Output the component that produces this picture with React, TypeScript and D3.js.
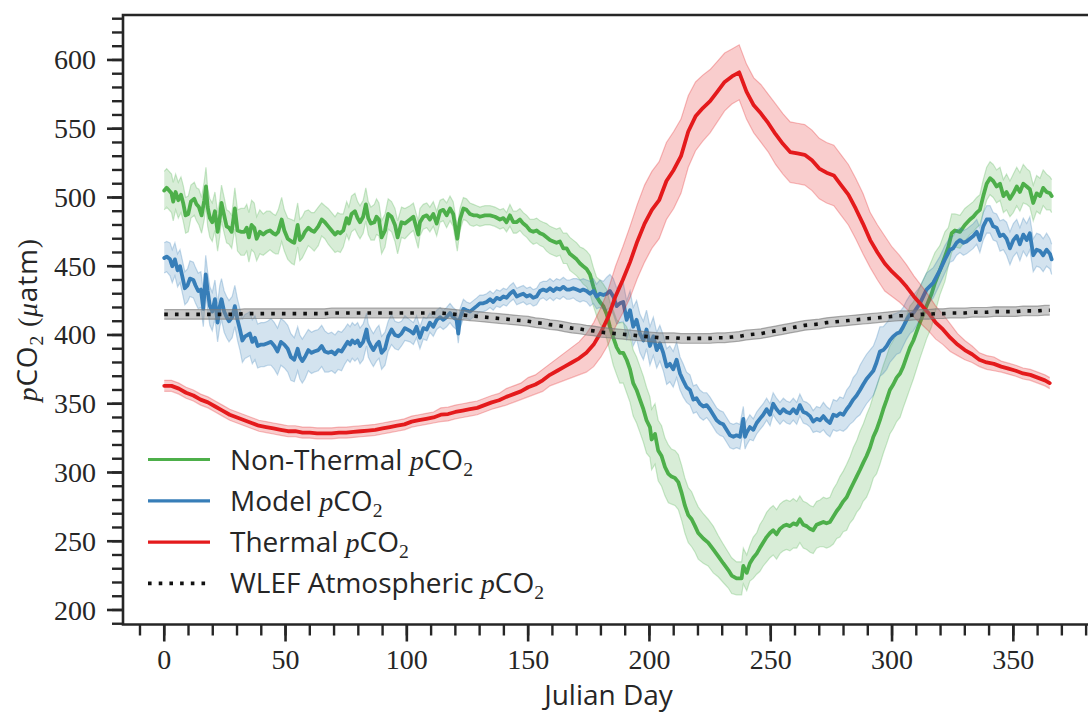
import React from 'react';
import * as d3 from 'd3';

// ---------- data ----------
// Non-thermal and model pCO2: [Julian day, value]
const NON_THERMAL: [number, number][] = [
  [0, 505], [1, 507], [3, 503], [3.7, 497], [4.7, 504], [5.8, 498], [6.9, 502], [7.8, 496], [8.8, 487], [9.9, 488],
  [11, 497], [12.4, 499], [13.3, 495], [14.3, 493], [15.4, 487], [16.5, 498], [17.2, 508], [17.9, 493], [18.8, 485], [19.8, 482],
  [20.9, 490], [22, 475], [22.9, 485], [23.6, 496], [24.7, 487], [25.7, 479], [26.7, 478], [27.8, 475], [29.1, 492], [30.2, 476],
  [31.6, 475], [33, 475], [34, 478], [34.9, 471], [36, 480], [37.1, 478], [38.1, 470], [39.4, 475], [40.8, 473], [42.2, 475],
  [43.6, 476], [44.9, 474], [45.9, 473], [47, 475], [48.4, 484], [49.5, 476], [50.9, 470], [52.5, 468], [53.6, 467], [55, 480],
  [55.9, 469], [56.9, 471], [58, 475], [59.4, 478], [60.7, 476], [61.8, 475], [63.5, 479], [64.9, 484], [66.2, 482], [67.6, 479],
  [69, 476], [70.4, 473], [71.5, 475], [72.6, 474], [73.8, 476], [75.2, 485], [76.1, 481], [77.2, 488], [78.6, 490], [79.7, 485],
  [80.7, 482], [82, 486], [83.1, 495], [84.1, 485], [85.2, 481], [86.6, 482], [87.5, 486], [88.5, 484], [89.6, 471], [91, 476],
  [92.3, 488], [93.7, 486], [95.1, 480], [96.2, 471], [97.8, 482], [99.2, 481], [101.3, 484], [102.7, 486], [104.7, 473], [105.4, 482],
  [106.8, 486], [108.2, 487], [109.5, 484], [110.9, 488], [112.3, 481], [113.7, 490], [115, 491], [116.4, 487], [117.8, 492], [119.1, 488],
  [120.8, 470], [121.9, 484], [123.3, 492], [124.6, 491], [126, 488], [127.4, 487], [128.8, 487], [130.1, 486], [132.2, 487], [134.3, 487],
  [136.3, 486], [138.4, 484], [139.8, 485], [141.1, 482], [142.5, 487], [143.9, 482], [145.2, 482], [146.6, 484], [148, 481], [149.4, 479],
  [150.8, 476], [152.1, 475], [153.5, 476], [154.9, 474], [156.2, 473], [157.6, 471], [159, 469], [160.4, 468], [161.7, 467], [163.1, 468],
  [164.5, 463], [165.9, 463], [167.2, 459], [168.6, 457], [170, 455], [171.4, 452], [172.7, 450], [174.1, 448], [175.5, 444], [176.9, 435],
  [178.2, 428], [179.6, 424], [181, 421], [182.4, 415], [183.7, 406], [185.1, 398], [186.5, 391], [187.8, 387], [189.2, 387], [190.6, 382],
  [192, 375], [193.3, 365], [194.7, 360], [196.1, 353], [197.5, 346], [198.8, 338], [200.2, 333], [200.9, 324], [202.3, 328], [203.6, 316],
  [205, 312], [206.4, 304], [207.8, 299], [209.1, 297], [210.5, 296], [211.9, 293], [213.3, 285], [214.6, 276], [216, 269], [217.4, 266],
  [218.8, 261], [220.1, 256], [222.2, 252], [224.2, 249], [226.3, 244], [228.4, 239], [230.4, 234], [232.5, 229], [233.9, 225], [235.9, 223],
  [238, 223], [238.7, 232], [240.1, 227], [241.4, 234], [242.8, 238], [244.2, 241], [245.5, 245], [246.9, 249], [248.3, 253], [249.7, 256],
  [251, 258], [252.4, 255], [253.8, 259], [255.2, 261], [256.5, 262], [257.9, 261], [259.3, 263], [260.7, 262], [262, 266], [263.4, 262],
  [264.8, 261], [266.2, 259], [267.5, 258], [268.9, 262], [270.3, 263], [271.7, 264], [273, 263], [274.4, 264], [275.8, 268], [277.2, 272],
  [278.5, 275], [279.9, 279], [281.3, 282], [282.6, 287], [284, 292], [285.4, 297], [286.8, 302], [288.1, 307], [289.5, 312], [290.9, 318],
  [292.3, 326], [293.6, 331], [295, 338], [296.4, 346], [297.8, 353], [299.1, 360], [300.5, 364], [301.9, 369], [303.3, 372], [304.6, 377],
  [306, 384], [307.4, 391], [308.8, 396], [311.5, 409], [314.2, 421], [316.3, 430], [317.7, 438], [319.7, 447], [321.8, 457], [323.2, 464],
  [324.6, 474], [325.9, 476], [328, 475], [330, 480], [332.1, 484], [333.5, 486], [334.9, 489], [336.2, 491], [337.6, 501], [339, 510],
  [340.4, 514], [341.7, 512], [343.1, 508], [344.5, 510], [345.9, 501], [347.2, 504], [348.6, 499], [350, 503], [351.4, 508], [352.7, 504],
  [354.1, 510], [355.5, 508], [356.8, 506], [358.2, 496], [359.6, 503], [361, 501], [362.3, 507], [363.7, 504], [365.1, 503], [365.8, 501],
];

const MODEL: [number, number][] = [
  [0, 456], [1, 457], [2.4, 455], [3.3, 450], [4.4, 455], [5.5, 447], [6.5, 450], [7.4, 443], [8.5, 434], [9.6, 436],
  [10.6, 441], [12, 440], [12.9, 436], [14, 432], [15.1, 433], [16.1, 419], [17.1, 444], [17.9, 432], [18.8, 421], [19.8, 417],
  [20.9, 426], [22, 409], [22.9, 421], [23.6, 426], [24.7, 417], [25.7, 413], [26.7, 410], [28, 413], [29.1, 421], [30.2, 411],
  [31.2, 404], [32.2, 396], [33.3, 399], [34.4, 400], [35.3, 401], [36.3, 395], [37.4, 398], [38.5, 392], [39.9, 393], [41.2, 393],
  [42.6, 394], [44, 395], [45.4, 392], [46.7, 388], [48.1, 395], [49.5, 393], [50.9, 390], [52.2, 384], [53.6, 382], [55, 390],
  [55.9, 384], [56.9, 381], [58, 384], [59.4, 389], [60.7, 387], [61.8, 388], [63.5, 389], [64.9, 392], [66.2, 388], [67.6, 387],
  [69, 388], [70.4, 386], [71.7, 389], [73.1, 388], [74.5, 392], [75.6, 395], [76.6, 393], [77.5, 396], [78.6, 394], [79.7, 396],
  [80.7, 392], [82, 395], [83.4, 404], [84.1, 396], [85.2, 392], [86.2, 389], [87.5, 393], [88.5, 395], [89.6, 387], [91, 390],
  [92.3, 399], [93.7, 404], [95.1, 400], [96.5, 399], [97.8, 401], [99.2, 405], [101.3, 403], [102.7, 401], [104, 406], [105.4, 398],
  [106.8, 405], [108.2, 404], [109.5, 409], [110.9, 406], [112.3, 411], [113.7, 413], [115, 411], [116.4, 413], [117.8, 416], [119.1, 413],
  [120.5, 411], [121.2, 401], [121.9, 412], [123.3, 419], [124.6, 418], [126, 417], [127.4, 419], [128.8, 421], [130.1, 423], [131.5, 423],
  [132.9, 424], [134.3, 426], [135.6, 424], [137, 427], [138.4, 426], [139.8, 428], [141.1, 427], [142.5, 430], [143.9, 432], [145.3, 428],
  [146.6, 429], [148, 430], [149.4, 428], [150.8, 429], [152.1, 427], [153.5, 428], [154.9, 432], [156.2, 433], [157.6, 432], [159, 434],
  [160.4, 432], [161.7, 434], [163.1, 433], [164.5, 435], [165.9, 433], [167.2, 433], [168.6, 434], [170, 433], [171.4, 432], [172.7, 433],
  [174.1, 432], [175.5, 430], [176.9, 432], [178.2, 428], [179.6, 430], [181, 429], [182.4, 430], [183.7, 432], [185.1, 428], [186.5, 421],
  [187.8, 423], [189.2, 424], [190.6, 411], [192, 418], [193.3, 406], [194.7, 411], [196.1, 401], [197.5, 396], [198.8, 404], [200.2, 392],
  [201.6, 399], [203, 389], [204.3, 394], [205.7, 387], [207.1, 377], [208.4, 379], [209.8, 375], [211.2, 382], [212.6, 372], [213.9, 367],
  [215.3, 362], [216.7, 360], [218.1, 353], [219.4, 354], [220.8, 350], [222.2, 348], [223.6, 349], [224.9, 346], [226.3, 342], [227.7, 338],
  [229.1, 336], [230.4, 335], [231.8, 331], [233.2, 327], [234.6, 326], [235.9, 327], [237.3, 326], [238.7, 339], [239.4, 326], [240.1, 329],
  [241.4, 333], [242.8, 331], [244.2, 336], [245.5, 339], [246.9, 342], [248.3, 346], [249.7, 342], [251, 350], [252.4, 346], [253.8, 343],
  [255.2, 346], [256.5, 344], [257.9, 343], [259.3, 346], [260.7, 343], [262, 349], [263.4, 344], [264.8, 343], [266.2, 341], [267.5, 337],
  [268.9, 339], [270.3, 338], [271.7, 341], [273, 338], [274.4, 336], [275.8, 342], [277.2, 341], [278.5, 343], [279.9, 342], [281.3, 346],
  [282.6, 349], [284, 353], [285.4, 356], [286.8, 360], [288.1, 364], [289.5, 368], [290.9, 371], [292.3, 374], [293.6, 380], [295, 388],
  [296.4, 389], [297.8, 392], [299.1, 396], [300.5, 399], [301.9, 401], [303.3, 402], [304.6, 406], [306, 411], [307.4, 415], [308.8, 416],
  [311.5, 423], [314.2, 433], [317, 438], [319.7, 447], [321.8, 455], [323.9, 462], [325.2, 463], [326.6, 467], [328, 469], [329.4, 467],
  [330.7, 468], [332.1, 470], [333.5, 472], [334.9, 475], [336.2, 469], [337.6, 479], [339, 484], [340.4, 484], [341.7, 479], [343.1, 478],
  [344.5, 472], [345.9, 473], [347.2, 470], [348.6, 463], [350, 469], [351.4, 472], [352.7, 466], [354.1, 473], [355.5, 469], [356.8, 474],
  [358.2, 458], [359.6, 462], [361, 461], [362.3, 458], [363.7, 462], [365.1, 459], [365.8, 455],
];

// Thermal pCO2 and the atmospheric record on a 3-day grid
const DAYS: number[] = [...d3.range(0, 364, 3), 365];

const THERMAL = [
  363, 363, 361, 358, 356, 353, 351, 348, 345, 342,
  340, 338, 336, 334, 333, 332, 331, 330, 330, 329,
  329, 328.5, 328.5, 328.5, 329, 329, 329.5, 330, 330.5, 331,
  332, 333, 334, 335, 337, 338, 339, 340, 342, 342.5,
  344, 345, 346, 347, 349, 351, 352.5, 355, 357, 359,
  362, 364, 367, 371, 374, 377, 380, 383, 387, 393,
  402, 413, 428, 440, 453, 468, 481, 491, 498, 512,
  520, 530, 548, 559, 565, 570, 577, 584, 588, 591,
  577, 567, 561, 554, 546, 539, 533, 532, 531, 527,
  521, 518, 516, 509, 502, 492, 481, 469, 460, 452,
  446, 441, 435, 428, 422, 416, 409, 404, 398, 393,
  389, 386, 382, 380, 379, 377, 375.5, 374, 372, 371,
  369, 367, 365,
];

const ATMOS = [
  415, 415, 415, 415, 415, 415, 415, 415, 415, 415,
  415, 415.5, 415.5, 415.5, 415.5, 415.5, 415.5, 415.5, 415.5, 415.5,
  415.5, 415.5, 415.5, 416, 416, 416, 416, 416, 416, 416,
  416, 416, 416, 416, 416, 416, 416, 416, 416, 415.5,
  415, 414.5, 414, 413.5, 413, 412.5, 412, 411.5, 411, 410.5,
  410, 409, 408.5, 407.5, 407, 406, 405, 404.5, 403.5, 403,
  402, 401.5, 401, 400.5, 400, 399.5, 399, 398.5, 398, 398,
  398, 397.5, 397.5, 397.5, 397.5, 397.5, 398, 398, 398.5, 399,
  400, 400.5, 401, 402, 403, 404, 405, 406, 407, 407.5,
  408, 409, 409.5, 410, 410.5, 411, 411.5, 412, 412.5, 413,
  413.5, 414, 414, 414.5, 415, 415, 415.5, 415.5, 416, 416,
  416, 416.5, 416.5, 416.5, 417, 417, 417, 417, 417.5, 417.5,
  417.5, 418, 418,
];

// band half-widths on the 3-day grid
const NON_THERMAL_SD = [
  14, 14, 13, 13, 12, 13, 14, 14, 13, 12,
  15, 17, 18, 16, 15, 14, 16, 15, 16, 15,
  13, 14, 12, 13, 14, 12, 13, 12, 12, 13,
  12, 11, 12, 11, 10, 10, 9, 9, 8, 9,
  9, 8, 8, 7, 7, 7, 7, 7, 8, 8,
  8, 9, 9, 10, 10, 11, 12, 12, 13, 14,
  16, 18, 20, 22, 24, 24, 24, 22, 22, 21,
  20, 20, 20, 19, 18, 17, 15, 14, 13, 12,
  13, 15, 17, 18, 18, 18, 18, 17, 17, 17,
  17, 18, 20, 22, 24, 26, 28, 30, 32, 32,
  32, 32, 30, 28, 26, 24, 22, 18, 14, 12,
  12, 11, 11, 12, 12, 12, 13, 14, 14, 13,
  13, 13, 12,
];
const MODEL_SD = [
  11, 12, 12, 12, 13, 13, 14, 14, 15, 15,
  15, 16, 16, 16, 16, 17, 17, 17, 16, 16,
  15, 15, 15, 14, 14, 13, 13, 13, 12, 12,
  12, 11, 10, 9, 8, 8, 8, 7, 7, 7,
  7, 7, 6, 6, 6, 6, 6, 6, 6, 6,
  6, 6, 6, 7, 7, 7, 7, 8, 8, 9,
  10, 12, 13, 14, 14, 14, 14, 14, 13, 13,
  13, 12, 11, 10, 10, 9, 9, 9, 9, 9,
  9, 8, 8, 8, 8, 8, 8, 8, 8, 8,
  9, 10, 11, 12, 14, 16, 18, 18, 18, 17,
  16, 15, 14, 13, 12, 12, 11, 10, 9, 9,
  9, 9, 9, 10, 10, 11, 12, 12, 12, 12,
  12, 12, 11,
];
const THERMAL_SD = [
  4, 4, 4, 4, 4, 4, 4, 4, 4, 4,
  4, 4, 4, 4, 4, 4, 4, 4, 4, 4,
  4, 4, 4, 4, 4, 4, 4, 4, 4, 4,
  4, 4, 4, 4, 4, 4, 4, 4, 5, 5,
  5, 5, 5, 5, 5, 5, 5, 6, 6, 6,
  7, 7, 8, 8, 9, 10, 11, 12, 14, 16,
  18, 20, 22, 24, 26, 27, 28, 28, 28, 28,
  28, 27, 26, 25, 24, 23, 22, 21, 20, 20,
  20, 20, 21, 21, 22, 22, 22, 22, 22, 22,
  22, 22, 22, 22, 22, 22, 22, 20, 20, 20,
  18, 17, 16, 15, 14, 13, 12, 11, 10, 8,
  7, 6, 5, 5, 5, 4, 4, 4, 4, 4,
  4, 4, 4,
];
const ATMOS_SD = 3.5;

const X_MAJOR = [0, 50, 100, 150, 200, 250, 300, 350];
const X_MINOR = d3.range(-10, 390, 10);
const Y_MAJOR = [200, 250, 300, 350, 400, 450, 500, 550, 600];
const Y_MINOR = d3.range(190, 640, 10);

const COLORS = { green: '#4daf4a', blue: '#377eb8', red: '#e41a1c' };

// ---------- layout ----------
const W = 1088;
const H = 715;
const LEFT = 123;
const TOP = 15;
const BOTTOM = 624.5;
const RIGHT_END = 1094;

const SERIF = '"Liberation Serif", "DejaVu Serif", serif';
const SANS = '"Open Sans", "DejaVu Sans", sans-serif';
const INK = '#262626';

const x = d3.scaleLinear().domain([-17, 383]).range([LEFT, LEFT + 400 * 2.426]);
const y = d3.scaleLinear().domain([189.45, 632.7]).range([BOTTOM, TOP]);

type Pt = { d: number; v: number; s: number };

// spread looked up on the 3-day grid
function sdAt(sd: number[], d: number) {
  return sd[Math.min(sd.length - 1, Math.max(0, Math.round(d / 3)))];
}
function fromPairs(pairs: [number, number][], sd: number[]): Pt[] {
  return pairs.map(([d, v]) => ({ d, v, s: sdAt(sd, d) }));
}
function fromGrid(vals: number[], sd: number[] | number): Pt[] {
  return DAYS.map((d, i) => ({ d, v: vals[i], s: typeof sd === 'number' ? sd : sd[i] }));
}

const lineGen = d3.line<Pt>().x((p) => x(p.d)).y((p) => y(p.v));
const upperGen = d3.line<Pt>().x((p) => x(p.d)).y((p) => y(p.v + p.s));
const lowerGen = d3.line<Pt>().x((p) => x(p.d)).y((p) => y(p.v - p.s));
const areaGen = d3
  .area<Pt>()
  .x((p) => x(p.d))
  .y0((p) => y(p.v - p.s))
  .y1((p) => y(p.v + p.s));

const SERIES = [
  { key: 'nt', color: COLORS.green, pts: fromPairs(NON_THERMAL, NON_THERMAL_SD) },
  { key: 'model', color: COLORS.blue, pts: fromPairs(MODEL, MODEL_SD) },
  { key: 'th', color: COLORS.red, pts: fromGrid(THERMAL, THERMAL_SD) },
];
const ATMOS_PTS = fromGrid(ATMOS, ATMOS_SD);

function PCO2({ size = 28 }: { size?: number }) {
  return (
    <>
      <tspan fontFamily={SERIF} fontStyle="italic">p</tspan>
      <tspan fontFamily={SANS}>CO</tspan>
      <tspan fontFamily={SERIF} fontSize={size * 0.7} dy={6}>2</tspan>
    </>
  );
}

export default function App() {
  const legendRows = [
    { label: 'Non-Thermal ', color: COLORS.green, dotted: false },
    { label: 'Model ', color: COLORS.blue, dotted: false },
    { label: 'Thermal ', color: COLORS.red, dotted: false },
    { label: 'WLEF Atmospheric ', color: '#111', dotted: true },
  ];
  return (
    <svg
      width={W}
      height={H}
      viewBox={`0 0 ${W} ${H}`}
      style={{ position: 'absolute', left: 0, top: 0, background: '#fff' }}
    >
      <defs>
        <clipPath id="plot">
          <rect x={LEFT} y={TOP} width={RIGHT_END - LEFT} height={BOTTOM - TOP} />
        </clipPath>
      </defs>
      <rect x={0} y={0} width={W} height={H} fill="#fff" />

      <g clipPath="url(#plot)">
        {SERIES.map((s) => (
          <g key={s.key}>
            <path d={areaGen(s.pts) || ''} fill={s.color} fillOpacity={0.22} stroke="none" />
            <path d={upperGen(s.pts) || ''} fill="none" stroke={s.color} strokeOpacity={0.28} strokeWidth={1.2} />
            <path d={lowerGen(s.pts) || ''} fill="none" stroke={s.color} strokeOpacity={0.28} strokeWidth={1.2} />
            <path
              d={lineGen(s.pts) || ''}
              fill="none"
              stroke={s.color}
              strokeWidth={3.8}
              strokeLinejoin="round"
              strokeLinecap="round"
            />
          </g>
        ))}
        <path d={areaGen(ATMOS_PTS) || ''} fill="#8a8a8a" fillOpacity={0.45} stroke="none" />
        <path d={upperGen(ATMOS_PTS) || ''} fill="none" stroke="#777" strokeOpacity={0.6} strokeWidth={1.2} />
        <path d={lowerGen(ATMOS_PTS) || ''} fill="none" stroke="#777" strokeOpacity={0.6} strokeWidth={1.2} />
        <path
          d={lineGen(ATMOS_PTS) || ''}
          fill="none"
          stroke="#111"
          strokeWidth={3.6}
          strokeDasharray="3.6 7.1"
        />
      </g>

      {/* spines */}
      <path
        d={`M${RIGHT_END},${TOP}H${LEFT}V${BOTTOM}H${RIGHT_END}`}
        fill="none"
        stroke={INK}
        strokeWidth={2.6}
        strokeLinecap="square"
      />

      {/* y ticks */}
      {Y_MINOR.map((v) => (
        <line key={'ym' + v} x1={LEFT} x2={LEFT - 11} y1={y(v)} y2={y(v)} stroke={INK} strokeWidth={2.4} />
      ))}
      {Y_MAJOR.map((v) => (
        <g key={'yM' + v}>
          <line x1={LEFT} x2={LEFT - 16} y1={y(v)} y2={y(v)} stroke={INK} strokeWidth={2.6} />
          <text
            x={96}
            y={y(v)}
            dy="0.34em"
            textAnchor="end"
            fontFamily={SERIF}
            fontSize={28}
            fill={INK}
          >
            {v}
          </text>
        </g>
      ))}

      {/* x ticks */}
      {X_MINOR.map((d) => (
        <line key={'xm' + d} x1={x(d)} x2={x(d)} y1={BOTTOM} y2={BOTTOM + 11} stroke={INK} strokeWidth={2.4} />
      ))}
      {X_MAJOR.map((d) => (
        <g key={'xM' + d}>
          <line x1={x(d)} x2={x(d)} y1={BOTTOM} y2={BOTTOM + 17} stroke={INK} strokeWidth={2.6} />
          <text x={x(d)} y={669} textAnchor="middle" fontFamily={SERIF} fontSize={28} fill={INK}>
            {d}
          </text>
        </g>
      ))}

      {/* axis labels */}
      <text x={(LEFT + RIGHT_END) / 2} y={705} textAnchor="middle" fontFamily={SANS} fontSize={28} fill={INK}>
        Julian Day
      </text>
      <text
        transform={`translate(37,${(TOP + BOTTOM) / 2}) rotate(-90)`}
        textAnchor="middle"
        fontSize={28}
        letterSpacing={0.8}
        fill={INK}
      >
        <PCO2 />
        <tspan fontFamily={SERIF} dy={-6}>{'\u00a0('}</tspan>
        <tspan fontFamily={SERIF} fontStyle="italic">μ</tspan>
        <tspan fontFamily={SANS}>atm</tspan>
        <tspan fontFamily={SERIF}>)</tspan>
      </text>

      {/* legend */}
      {legendRows.map((r, i) => {
        const ry = 459.5 + i * 41.3;
        return (
          <g key={'lg' + i}>
            <line
              x1={148}
              x2={210}
              y1={ry}
              y2={ry}
              stroke={r.color}
              strokeWidth={r.dotted ? 3.6 : 3.2}
              strokeDasharray={r.dotted ? '3.6 7.1' : undefined}
            />
            <text x={230} y={ry + 10} fontSize={28} fill={INK}>
              <tspan fontFamily={SANS}>{r.label}</tspan>
              <PCO2 />
            </text>
          </g>
        );
      })}
    </svg>
  );
}
